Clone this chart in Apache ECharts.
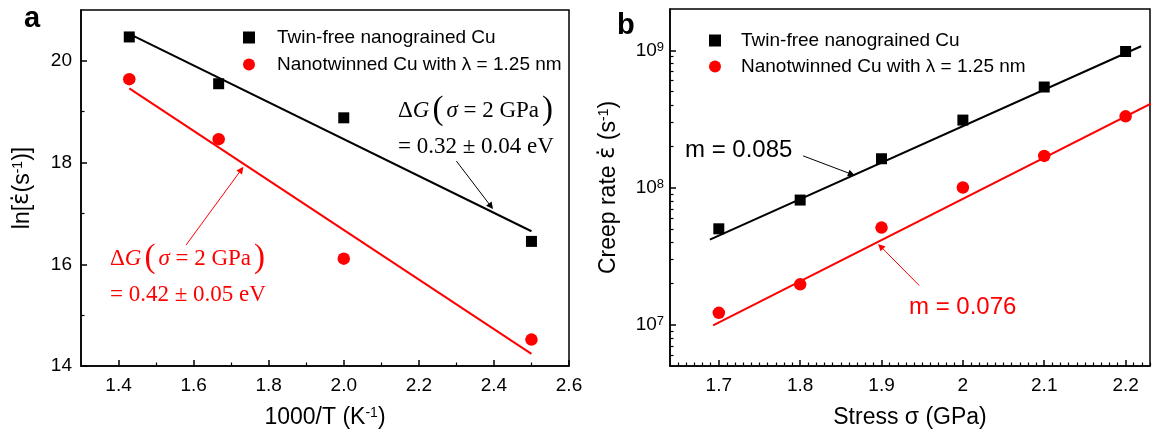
<!DOCTYPE html>
<html>
<head>
<meta charset="utf-8">
<script src="https://cdn.jsdelivr.net/npm/echarts@6/dist/echarts.min.js"></script>
<style>html,body{margin:0;padding:0;background:#fff}#c{width:1161px;height:434px}</style>
</head>
<body>
<div id="c"></div>
<script>
// ---------- Panel a data ----------
const invTemp = [1.4286, 1.6667, 2.0, 2.5];
const lnRateTwinFree = [20.47, 19.55, 18.88, 16.45];
const lnRateNanotwinned = [19.64, 18.46, 16.11, 14.52];
const fitA_x = [1.4286, 2.5];
const fitA_twinFree = [20.53, 16.65];
const fitA_nanotwinned = [19.46, 14.24];
const aXTicks = [1.4, 1.6, 1.8, 2.0, 2.2, 2.4, 2.6];
const aXMinor = [1.5, 1.7, 1.9, 2.1, 2.3, 2.5];
const aYTicks = [14, 16, 18, 20];
const aYMinor = [15, 17, 19];

// ---------- Panel b data ----------
const stress = [1.7, 1.8, 1.9, 2.0, 2.1, 2.2];
const rateTwinFree = [5.0e7, 8.1e7, 1.62e8, 3.1e8, 5.4e8, 9.8e8];
const rateNanotwinned = [1.22e7, 1.97e7, 5.1e7, 1.0e8, 1.7e8, 3.3e8];
const fitB_twinFree_x = [1.689, 2.219];
const fitB_twinFree = [4.17e7, 1.07e9];
const fitB_nanotwinned_x = [1.693, 2.231];
const fitB_nanotwinned = [9.9e6, 4.08e8];
const bXTicks = [1.7, 1.8, 1.9, 2.0, 2.1, 2.2];
const bYTicks = [1e7, 1e8, 1e9];
const bYMinor = [6e6, 7e6, 8e6, 9e6, 2e7, 3e7, 4e7, 5e7, 6e7, 7e7, 8e7, 9e7, 2e8, 3e8, 4e8, 5e8, 6e8, 7e8, 8e8, 9e8];

// arrows (data coordinates)
const arrowA_black = [[2.30, 18.03], [2.392, 17.14]];
const arrowA_red = [[1.58, 16.38], [1.727, 17.86]];
const arrowB_black = [[1.8037, 1.70e8], [1.8632, 1.25e8]];
const arrowB_red = [[1.9464, 1.93e7], [1.8988, 3.72e7]];

const nameTwinFree = 'Twin-free nanograined Cu';
const nameNanotwinned = 'Nanotwinned Cu with \u03bb = 1.25 nm';

const bXMin = 1.64, bXMax = 2.23;
const bXMinor = [];
for (let i = 165; i <= 223; i++) { if (i % 10 !== 0) bXMinor.push(i / 100); }

const SANS = "'Liberation Sans', Arial, sans-serif";
const SERIF = "'Liberation Serif', 'Times New Roman', serif";
const RED = '#ff0000';

function zip(xs, ys) { return xs.map((x, i) => [x, ys[i]]); }

const supRich = { sup: { fontSize: 13, lineHeight: 13, verticalAlign: 'top', fontFamily: SANS, color: '#000' } };
const titleStyle = { fontSize: 23, fontFamily: SANS, color: '#000', rich: {
  sup: { fontSize: 14, lineHeight: 14, verticalAlign: 'top', fontFamily: SANS, color: '#000' },
  eps: { fontSize: 23, fontFamily: "'DejaVu Sans', sans-serif", color: '#000' } } };
const lineAxis = { show: true, lineStyle: { color: '#000', width: 1.5 } };

function majorAxis(extra) {
  return Object.assign({
    type: 'value', splitLine: { show: false }, axisLine: lineAxis,
    axisLabel: { fontSize: 19, fontFamily: SANS, color: '#000', margin: 10 },
    axisTick: { inside: true, length: 6, lineStyle: { color: '#000', width: 1.5 } },
    nameLocation: 'middle', nameTextStyle: titleStyle
  }, extra);
}
function minorAxis(extra) {
  return Object.assign({
    type: 'value', splitLine: { show: false }, axisLine: { show: false },
    axisLabel: { show: false },
    axisTick: { inside: true, length: 3.5, lineStyle: { color: '#000', width: 1.2 } }
  }, extra);
}
function arrowMark(pts, color) {
  return {
    silent: true, animation: false, symbol: ['none', 'triangle'], symbolSize: 7,
    label: { show: false }, emphasis: { disabled: true },
    lineStyle: { type: 'solid', width: 1, color: color },
    data: [[{ coord: pts[0] }, { coord: pts[1] }]]
  };
}
function dgText(color) {
  return {
    text: '\u0394{i|G}{p|(}{i|\u03c3} = 2 GPa{p|)}', fontSize: 23, fontFamily: SERIF, fill: color,
    rich: {
      i: { fontStyle: 'italic', fontSize: 23, fontFamily: SERIF, verticalAlign: 'middle', color: color },
      p: { fontSize: 33, fontFamily: SERIF, verticalAlign: 'middle', padding: [0, 3, 0, 3], color: color }
    }
  };
}

const option = {
  animation: false,
  backgroundColor: '#fff',
  grid: [
    { left: 81, right: 592, top: 10, bottom: 65, show: true, borderColor: '#000', borderWidth: 1.5 },
    { left: 670, right: 11, top: 9, bottom: 66, show: true, borderColor: '#000', borderWidth: 1.5 }
  ],
  legend: [
    { orient: 'vertical', left: 238, top: 23, itemWidth: 12, itemHeight: 12, itemGap: 8,
      textStyle: { fontSize: 19, fontFamily: SANS, color: '#000', lineHeight: 19, padding: [0, 0, 0, 17] },
      data: [nameTwinFree, nameNanotwinned], selectedMode: false },
    { orient: 'vertical', left: 704, top: 26, itemWidth: 12, itemHeight: 12, itemGap: 7,
      textStyle: { fontSize: 19, fontFamily: SANS, color: '#000', lineHeight: 19, padding: [0, 0, 0, 15] },
      data: [nameTwinFree, nameNanotwinned], selectedMode: false }
  ],
  xAxis: [
    majorAxis({ gridIndex: 0, min: 1.3, max: 2.6, name: '1000/T (K{sup|-1})', nameGap: 40,
      axisTick: { inside: true, length: 6, customValues: aXTicks, lineStyle: { color: '#000', width: 1.5 } },
      axisLabel: { customValues: aXTicks, fontSize: 19, fontFamily: SANS, color: '#000', margin: 10, formatter: v => v.toFixed(1) } }),
    minorAxis({ gridIndex: 0, min: 1.3, max: 2.6, position: 'bottom',
      axisTick: { inside: true, length: 3.5, customValues: aXMinor, lineStyle: { color: '#000', width: 1.2 } } }),
    majorAxis({ gridIndex: 1, min: bXMin, max: bXMax, name: 'Stress \u03c3 (GPa)', nameGap: 40,
      axisTick: { inside: true, length: 6, customValues: bXTicks, lineStyle: { color: '#000', width: 1.5 } },
      axisLabel: { customValues: bXTicks, fontSize: 19, fontFamily: SANS, color: '#000', margin: 10, formatter: v => String(Math.round(v * 10) / 10) } }),
    minorAxis({ gridIndex: 1, min: bXMin, max: bXMax, position: 'bottom',
      axisTick: { inside: true, length: 3.5, customValues: bXMinor, lineStyle: { color: '#000', width: 1.2 } } })
  ],
  yAxis: [
    majorAxis({ gridIndex: 0, min: 14, max: 21, name: 'ln[{eps|\u03b5\u0307}(s{sup|-1})]', nameGap: 47,
      axisTick: { inside: true, length: 6, customValues: aYTicks, lineStyle: { color: '#000', width: 1.5 } },
      axisLabel: { customValues: aYTicks, fontSize: 19, fontFamily: SANS, color: '#000', margin: 9 } }),
    minorAxis({ gridIndex: 0, min: 14, max: 21, position: 'left',
      axisTick: { inside: true, length: 3.5, customValues: aYMinor, lineStyle: { color: '#000', width: 1.2 } } }),
    majorAxis({ gridIndex: 1, type: 'log', logBase: 10, min: 5e6, max: 2e9, name: 'Creep rate {eps|\u03b5\u0307} (s{sup|-1})', nameGap: 50,
      axisTick: { inside: true, length: 6, customValues: bYTicks, lineStyle: { color: '#000', width: 1.5 } },
      axisLabel: { customValues: bYTicks, fontSize: 19, fontFamily: SANS, color: '#000', margin: 6,
        formatter: v => '10{sup|' + Math.round(Math.log10(v)) + '}', rich: supRich } }),
    minorAxis({ gridIndex: 1, type: 'log', logBase: 10, min: 5e6, max: 2e9, position: 'left',
      axisTick: { inside: true, length: 3.5, customValues: bYMinor, lineStyle: { color: '#000', width: 1.2 } } })
  ],
  series: [
    { name: nameTwinFree, type: 'scatter', xAxisIndex: 0, yAxisIndex: 0, symbol: 'rect', symbolSize: 11,
      itemStyle: { color: '#000', opacity: 1 }, data: zip(invTemp, lnRateTwinFree), z: 5 },
    { name: nameNanotwinned, type: 'scatter', xAxisIndex: 0, yAxisIndex: 0, symbol: 'circle', symbolSize: 12.5,
      itemStyle: { color: RED, opacity: 1 }, data: zip(invTemp, lnRateNanotwinned), z: 5 },
    { name: 'fitA1', type: 'line', xAxisIndex: 0, yAxisIndex: 0, showSymbol: false, symbol: 'none',
      lineStyle: { color: '#000', width: 2 }, data: zip(fitA_x, fitA_twinFree), markLine: arrowMark(arrowA_black, '#000') },
    { name: 'fitA2', type: 'line', xAxisIndex: 0, yAxisIndex: 0, showSymbol: false, symbol: 'none',
      lineStyle: { color: RED, width: 2 }, data: zip(fitA_x, fitA_nanotwinned), markLine: arrowMark(arrowA_red, RED) },
    { name: nameTwinFree, type: 'scatter', xAxisIndex: 2, yAxisIndex: 2, symbol: 'rect', symbolSize: 11,
      itemStyle: { color: '#000', opacity: 1 }, data: zip(stress, rateTwinFree), z: 5 },
    { name: nameNanotwinned, type: 'scatter', xAxisIndex: 2, yAxisIndex: 2, symbol: 'circle', symbolSize: 12.5,
      itemStyle: { color: RED, opacity: 1 }, data: zip(stress, rateNanotwinned), z: 5 },
    { name: 'fitB1', type: 'line', xAxisIndex: 2, yAxisIndex: 2, showSymbol: false, symbol: 'none',
      lineStyle: { color: '#000', width: 2 }, data: zip(fitB_twinFree_x, fitB_twinFree), markLine: arrowMark(arrowB_black, '#000') },
    { name: 'fitB2', type: 'line', xAxisIndex: 2, yAxisIndex: 2, showSymbol: false, symbol: 'none',
      lineStyle: { color: RED, width: 2 }, data: zip(fitB_nanotwinned_x, fitB_nanotwinned), markLine: arrowMark(arrowB_red, RED) }
  ],
  graphic: [
    { type: 'text', left: 24, top: 4, style: { text: 'a', font: "bold 29px 'Liberation Sans', Arial, sans-serif", fill: '#000' } },
    { type: 'text', left: 617, top: 11, style: { text: 'b', font: "bold 29px 'Liberation Sans', Arial, sans-serif", fill: '#000' } },
    { type: 'text', left: 398, top: 94, style: dgText('#000') },
    { type: 'text', left: 398, top: 135, style: { text: '= 0.32 \u00b1 0.04 eV', fontSize: 23, fontFamily: SERIF, fill: '#000' } },
    { type: 'text', left: 110, top: 242, style: dgText(RED) },
    { type: 'text', left: 110, top: 283, style: { text: '= 0.42 \u00b1 0.05 eV', fontSize: 23, fontFamily: SERIF, fill: RED } },
    { type: 'text', left: 685, top: 138, style: { text: 'm = 0.085', fontSize: 24, fontFamily: SANS, fill: '#000' } },
    { type: 'text', left: 909, top: 295, style: { text: 'm = 0.076', fontSize: 24, fontFamily: SANS, fill: RED } }
  ]
};

const chart = echarts.init(document.getElementById('c'), null, { renderer: 'canvas' });
chart.setOption(option);
</script>
</body>
</html>
